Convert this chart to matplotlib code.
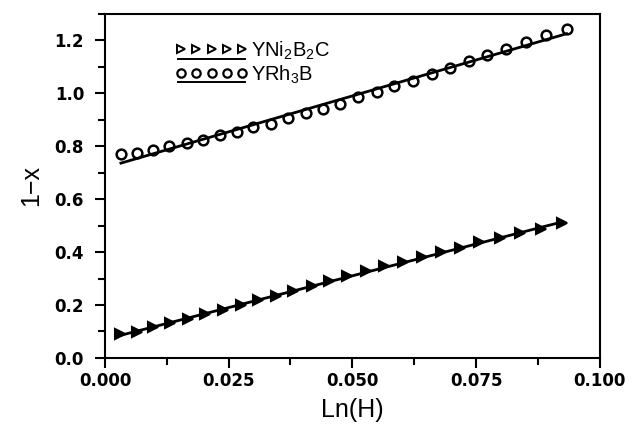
import numpy as np
import matplotlib
matplotlib.use("Agg")
import matplotlib.pyplot as plt
from matplotlib.lines import Line2D
from matplotlib.legend_handler import HandlerLine2D
from matplotlib.ticker import MultipleLocator, FormatStrFormatter

# YRh3B data
lnh_rh = [0.00323, 0.0064, 0.00963, 0.0130, 0.0165, 0.0199, 0.0232, 0.0266, 0.0300,
          0.0335, 0.0370, 0.0406, 0.0441, 0.0476, 0.0512, 0.0549, 0.0585, 0.0622,
          0.0660, 0.0697, 0.0735, 0.0773, 0.0811, 0.0851, 0.0891, 0.0933]
y_rh = [0.769, 0.775, 0.785, 0.800, 0.811, 0.823, 0.841, 0.855, 0.872, 0.886, 0.905,
        0.924, 0.942, 0.958, 0.987, 1.005, 1.028, 1.047, 1.072, 1.097, 1.122, 1.144,
        1.169, 1.195, 1.220, 1.245]

# YNi2B2C data
lnh_ni = [0.00303, 0.0064, 0.00976, 0.01313, 0.0167, 0.0202, 0.0239, 0.0274, 0.0310,
          0.0345, 0.0380, 0.0418, 0.0453, 0.0490, 0.0527, 0.0564, 0.0603, 0.0641,
          0.0679, 0.0717, 0.0756, 0.0798, 0.0838, 0.0881, 0.0923]
y_ni = [0.091, 0.097, 0.116, 0.131, 0.148, 0.165, 0.182, 0.201, 0.217, 0.235, 0.251,
        0.270, 0.289, 0.308, 0.327, 0.346, 0.362, 0.381, 0.399, 0.415, 0.437, 0.453,
        0.472, 0.487, 0.508]

labels = ["YNi$_2$B$_2$C", "YRh$_3$B"]

plt.rcParams["font.family"] = ["Liberation Sans", "DejaVu Sans"]
plt.rcParams["mathtext.fontset"] = "custom"
plt.rcParams["mathtext.rm"] = "Liberation Sans"
plt.rcParams["mathtext.it"] = "Liberation Sans:italic"

fig = plt.figure(figsize=(6.36, 4.25), dpi=100)
ax = fig.add_axes([0.165, 0.158, 0.778, 0.809])


def fit_line(x, y):
    x = np.asarray(x)
    k, b = np.polyfit(x, np.asarray(y), 1)
    xs = np.array([x.min(), x.max()])
    return xs, k * xs + b


ax.plot(lnh_ni, y_ni, ls="none", marker=">", ms=7, mfc="black", mec="black", mew=1.5)
ax.plot(*fit_line(lnh_ni, y_ni), color="black", lw=2.0)

ax.plot(lnh_rh, y_rh, ls="none", marker="o", ms=7, mfc="white", mec="black", mew=1.8)
ax.plot(*fit_line(lnh_rh, y_rh), color="black", lw=2.0)


class UnderlinedMarkers(HandlerLine2D):
    """Row of markers with the fit line drawn underneath them."""

    def create_artists(self, legend, orig_handle, xdescent, ydescent,
                       width, height, fontsize, trans):
        xs = np.linspace(-xdescent + 2, width - xdescent - 2, 5)
        ym = 0.55 * height - ydescent
        yl = -ydescent - 0.1 * height
        line = Line2D([xs[0] - 2, xs[-1] + 2], [yl, yl], color="black", lw=1.4)
        marks = Line2D(xs, [ym] * 5, ls="none", marker=orig_handle.get_marker(),
                       ms=orig_handle.get_markersize(), mfc="white", mec="black",
                       mew=orig_handle.get_markeredgewidth())
        line.set_transform(trans)
        marks.set_transform(trans)
        return [line, marks]


h_ni = Line2D([], [], marker=">", ms=5.5, mew=1.4, ls="none")
h_rh = Line2D([], [], marker="o", ms=6, mew=1.6, ls="none")
ax.legend([h_ni, h_rh], labels, loc="upper left", bbox_to_anchor=(0.12, 0.965),
          frameon=False, fontsize=14.5, handlelength=3.3, handletextpad=0.3,
          labelspacing=0.05, borderpad=0.2,
          handler_map={Line2D: UnderlinedMarkers()})

ax.set_xlim(0.0, 0.1)
ax.set_ylim(0.0, 1.3)
ax.xaxis.set_major_locator(MultipleLocator(0.025))
ax.xaxis.set_minor_locator(MultipleLocator(0.0125))
ax.yaxis.set_major_locator(MultipleLocator(0.2))
ax.yaxis.set_minor_locator(MultipleLocator(0.1))
ax.xaxis.set_major_formatter(FormatStrFormatter("%.3f"))
ax.yaxis.set_major_formatter(FormatStrFormatter("%.1f"))

for s in ax.spines.values():
    s.set_linewidth(1.5)
ax.tick_params(which="major", direction="out", length=7, width=1.5, labelsize=12)
ax.tick_params(which="minor", direction="out", length=5, width=1.5)
ax.tick_params(axis="x", which="major", pad=3)
ax.tick_params(axis="y", which="major", pad=8)
for lab in ax.get_xticklabels() + ax.get_yticklabels():
    lab.set_fontweight("bold")
    lab.set_family("DejaVu Sans")

ax.set_xlabel("Ln(H)", fontsize=18, labelpad=6)
ax.set_ylabel("1\u2212x", fontsize=18, labelpad=8)

fig.savefig("out.png", dpi=100)
